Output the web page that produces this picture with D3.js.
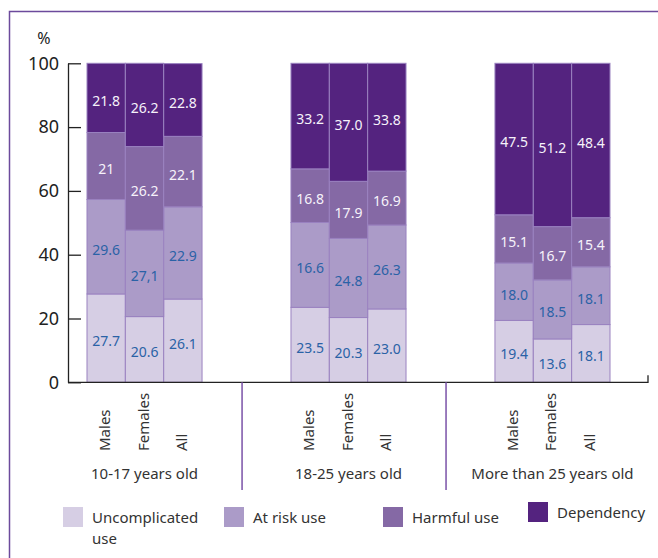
<!DOCTYPE html>
<html lang="en">
<head>
    <meta charset="UTF-8">
    <title>Substance use by age group</title>
    <script src="https://d3js.org/d3.v7.min.js"></script>
    <style>
        body {margin: 0; background: white;}
        text {font-family: "Noto Sans", sans-serif; fill: #333;}
    </style>
</head>
<body>
<script>
    const width = 658;
    const height = 558;

    // data
    const groups = ["10-17 years old", "18-25 years old", "More than 25 years old"];
    const sexes = ["Males", "Females", "All"];
    const series = ["Uncomplicated use", "At risk use", "Harmful use", "Dependency"];

    // one value per bar, order: group 1 (M, F, All), group 2, group 3
    const uncomplicated = [27.7, 20.6, 26.1, 23.5, 20.3, 23.0, 19.4, 13.6, 18.1];
    const atRisk        = [29.6, 27.1, 28.9, 26.6, 24.8, 26.3, 18.0, 18.5, 18.1];
    const harmful       = [21.0, 26.2, 22.1, 16.8, 17.9, 16.9, 15.1, 16.7, 15.4];
    const dependency    = [21.8, 26.2, 22.8, 33.2, 37.0, 33.8, 47.5, 51.2, 48.4];

    // the printed labels (as in the source, typos included)
    const uncomplicatedLabels = ["27.7", "20.6", "26.1", "23.5", "20.3", "23.0", "19.4", "13.6", "18.1"];
    const atRiskLabels        = ["29.6", "27,1", "22.9", "16.6", "24.8", "26.3", "18.0", "18.5", "18.1"];
    const harmfulLabels       = ["21", "26.2", "22.1", "16.8", "17.9", "16.9", "15.1", "16.7", "15.4"];
    const dependencyLabels    = ["21.8", "26.2", "22.8", "33.2", "37.0", "33.8", "47.5", "51.2", "48.4"];

    const yTicks = [0, 20, 40, 60, 80, 100];

    const colors = ["#d6cee4", "#ab9bc8", "#8569a5", "#54237f"];
    const labelColors = ["#2a62a6", "#2a62a6", "#f6f2fa", "#f6f2fa"];

    const values = [uncomplicated, atRisk, harmful, dependency];
    const labels = [uncomplicatedLabels, atRiskLabels, harmfulLabels, dependencyLabels];

    const rows = [];
    groups.forEach((g, gi) => sexes.forEach((s, si) => {
        const i = gi * sexes.length + si;
        const row = {group: g, sex: s, i: i};
        series.forEach((k, ki) => row[k] = values[ki][i]);
        rows.push(row);
    }));

    const stacked = d3.stack().keys(series)(rows);

    const axisLeft = 68, axisRight = 648;
    const plotTop = 63.3, plotBottom = 382.3;

    const svg = d3.select("body").append("svg")
            .attr("width", width).attr("height", height);

    // purple frame (top and left edges)
    svg.append("path")
            .attr("d", `M9.5,${height} V11.5 H${width}`)
            .style("fill", "none")
            .style("stroke", "#6c4a9c")
            .style("stroke-width", 1.5);

    const y = d3.scaleLinear().domain([0, 100]).range([plotBottom, plotTop]);

    const x0 = d3.scaleBand()
            .domain(groups)
            .range([87, 610])
            .paddingInner(0.436);

    const x1 = d3.scaleBand()
            .domain(sexes)
            .range([0, x0.bandwidth()]);

    // bars
    const layer = svg.selectAll("g.layer")
            .data(stacked)
            .enter()
            .append("g")
            .attr("class", "layer");

    layer.selectAll("rect")
            .data(d => d.map(p => ({key: d.key, k: d.index, lo: p[0], hi: Math.min(p[1], 100), row: p.data})))
            .enter()
            .append("rect")
            .attr("x", d => x0(d.row.group) + x1(d.row.sex))
            .attr("width", x1.bandwidth())
            .attr("y", d => y(d.hi))
            .attr("height", d => y(d.lo) - y(d.hi))
            .style("fill", d => colors[d.k])
            .style("stroke", "#9a82c0")
            .style("stroke-width", 1);

    layer.selectAll("text")
            .data(d => d.map(p => ({k: d.index, lo: p[0], hi: Math.min(p[1], 100), row: p.data})))
            .enter()
            .append("text")
            .attr("x", d => x0(d.row.group) + x1(d.row.sex) + x1.bandwidth() / 2)
            .attr("y", d => (y(d.lo) + y(d.hi)) / 2 + 3)
            .attr("dy", "0.35em")
            .attr("text-anchor", "middle")
            .style("font-size", "14px")
            .style("fill", d => labelColors[d.k])
            .text(d => labels[d.k][d.row.i]);

    // y axis
    const yAxis = svg.append("g")
            .attr("transform", `translate(${axisLeft},0)`)
            .call(d3.axisLeft(y).tickValues(yTicks).tickSize(-13).tickSizeOuter(0).tickPadding(9));
    yAxis.select(".domain").style("stroke", "#222").style("stroke-width", 1.3);
    yAxis.selectAll(".tick line").style("stroke", "#222").style("stroke-width", 1.3);
    yAxis.selectAll(".tick text")
            .style("font-family", "'Noto Sans', sans-serif")
            .style("font-size", "18px")
            .style("fill", "#222");

    svg.append("text")
            .attr("x", 44).attr("y", 44)
            .attr("text-anchor", "middle")
            .style("font-size", "16px")
            .style("fill", "#222")
            .text("%");

    // x baseline
    svg.append("path")
            .attr("d", `M${axisLeft},${y(0)} H${axisRight} V${y(0) - 7}`)
            .style("fill", "none")
            .style("stroke", "#222")
            .style("stroke-width", 1.3);

    // group separators
    const gap = x0.step() * x0.paddingInner();
    svg.selectAll("line.sep")
            .data(groups.slice(1))
            .enter()
            .append("line")
            .attr("class", "sep")
            .attr("x1", g => x0(g) - gap * 0.55)
            .attr("x2", g => x0(g) - gap * 0.55)
            .attr("y1", y(0))
            .attr("y2", 490)
            .style("stroke", "#7a52a8")
            .style("stroke-width", 1.5);

    // rotated sex labels
    svg.selectAll("text.sex")
            .data(rows)
            .enter()
            .append("text")
            .attr("class", "sex")
            .attr("transform", d => `translate(${x0(d.group) + x1(d.sex) + x1.bandwidth() / 2 + 4},451) rotate(-90)`)
            .style("font-size", "15px")
            .text(d => d.sex);

    // group labels
    svg.selectAll("text.group")
            .data(groups)
            .enter()
            .append("text")
            .attr("class", "group")
            .attr("x", g => x0(g) + x0.bandwidth() / 2)
            .attr("y", 479)
            .attr("text-anchor", "middle")
            .style("font-size", "15px")
            .text(g => g);

    // legend
    const legendX = [63, 224, 383, 528];
    const legendY = [507, 507, 507, 502];
    const legendText = [["Uncomplicated", "use"], ["At risk use"], ["Harmful use"], ["Dependency"]];

    const legend = svg.selectAll("g.legend")
            .data(series)
            .enter()
            .append("g")
            .attr("class", "legend")
            .attr("transform", (d, i) => `translate(${legendX[i]},${legendY[i]})`);

    legend.append("rect")
            .attr("width", 20).attr("height", 20)
            .style("fill", (d, i) => colors[i]);

    legend.append("text")
            .attr("x", 29)
            .attr("y", 16)
            .style("font-size", "15px")
            .each(function(d, i) {
                legendText[i].forEach((t, j) => {
                    d3.select(this).append("tspan")
                            .attr("x", 29)
                            .attr("dy", j === 0 ? 0 : 21)
                            .text(t);
                });
            });
</script>
</body>
</html>
